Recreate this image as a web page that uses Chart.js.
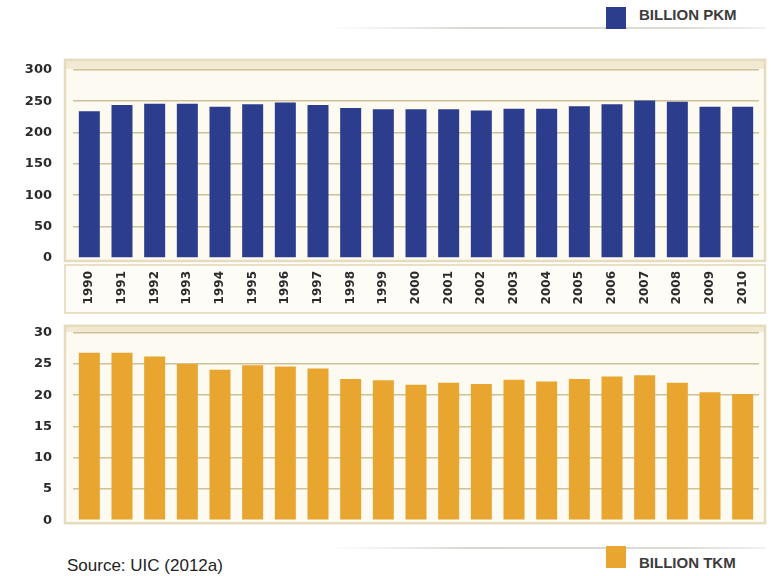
<!DOCTYPE html>
<html>
<head>
<meta charset="utf-8">
<script src="https://cdn.jsdelivr.net/npm/chart.js@4.4.1/dist/chart.umd.min.js"></script>
<style>
  body { margin: 0; background: #fff; }
  #page { position: relative; width: 771px; height: 576px; overflow: hidden; background: #fff; }
  #page canvas { position: absolute; left: 0; }
  .rule { position: absolute; left: 330px; width: 435px; height: 2px;
          background: linear-gradient(to right, rgba(210,210,204,0), #d6d6d0 35%, #dcdcd6 80%, rgba(220,220,214,0.4)); }
  .swatch { position: absolute; left: 606px; width: 20px; height: 22px; }
  .legtext { position: absolute; left: 639px; font: bold 15px "Liberation Sans Narrow", "Liberation Sans", Arial, sans-serif;
             color: #3c3c3c; white-space: nowrap; line-height: 15px; }
  #source { position: absolute; left: 67px; top: 557px; font: 17px "Liberation Sans Narrow", "Liberation Sans", Arial, sans-serif;
            color: #222; line-height: 18px; }
</style>
</head>
<body>
<div id="page">
  <div class="rule" style="top:27px"></div>
  <div class="swatch" style="top:7px;background:#2d3d8e"></div>
  <div class="legtext" style="top:7px">BILLION PKM</div>

  <div class="rule" style="top:547px"></div>
  <div class="swatch" style="top:546px;background:#e8a630"></div>
  <div class="legtext" style="top:555px">BILLION TKM</div>
  <div id="source">Source: UIC (2012a)</div>

  <canvas id="pkm" style="top:41px" width="771" height="277"></canvas>
  <canvas id="tkm" style="top:304px" width="771" height="245"></canvas>
</div>
<script>
const years = ['1990','1991','1992','1993','1994','1995','1996','1997','1998','1999','2000',
               '2001','2002','2003','2004','2005','2006','2007','2008','2009','2010'];
const billionPkm = [234, 244, 246, 246, 241, 245, 248, 244, 239, 237, 237,
                    237, 235, 238, 238, 242, 245, 251, 249, 241, 241];
const billionTkm = [26.8, 26.8, 26.2, 25.0, 24.1, 24.8, 24.6, 24.3, 22.6, 22.4, 21.7,
                    22.0, 21.8, 22.5, 22.2, 22.6, 23.0, 23.2, 22.0, 20.5, 20.2];
const pkmTicks = [0, 50, 100, 150, 200, 250, 300];
const tkmTicks = [0, 5, 10, 15, 20, 25, 30];

const tickFont = { family: 'DejaVu Sans', weight: 'bold', size: 13 };

// beige frame behind the plot, plus the box round the year labels
const framePlugin = {
  id: 'frame',
  beforeDraw(chart, args, opts) {
    const { ctx, chartArea: a } = chart;
    const l = a.left - 8, r = a.right + 6, t = a.top - opts.topGap, b = a.bottom + 3;
    ctx.save();
    ctx.fillStyle = '#fcfaf1';
    ctx.fillRect(l, t, r - l, b - t);
    ctx.fillStyle = '#f1e9d1';
    ctx.fillRect(l, t, r - l, opts.topGap - 1);
    ctx.strokeStyle = '#e6dcbd';
    ctx.lineWidth = 2.5;
    ctx.strokeRect(l, t, r - l, b - t);
    if (opts.labelBox) {
      ctx.fillStyle = '#fdfcf7';
      ctx.fillRect(l, a.bottom + 7, r - l, 48);
      ctx.strokeStyle = '#e8dfc4';
      ctx.lineWidth = 2;
      ctx.strokeRect(l, a.bottom + 7, r - l, 48);
    }
    ctx.restore();
  }
};

function makeChart(id, values, color, ticks, showYears, pad) {
  return new Chart(document.getElementById(id), {
    type: 'bar',
    data: {
      labels: years,
      datasets: [{ label: id, data: values, backgroundColor: color,
                   categoryPercentage: 1, barPercentage: 0.643 }]
    },
    plugins: [framePlugin],
    options: {
      responsive: false,
      animation: false,
      layout: { padding: pad },
      plugins: {
        legend: { display: false },
        tooltip: { enabled: false },
        frame: { topGap: showYears ? 10 : 7, labelBox: showYears }
      },
      scales: {
        x: {
          display: showYears,
          offset: true,
          grid: { display: false, drawTicks: false, tickLength: 0 },
          border: { display: false },
          ticks: { minRotation: 90, maxRotation: 90, padding: 13, color: '#2b2b2b',
                   font: { family: 'DejaVu Sans', weight: 'bold', size: 12 } },
          afterFit(scale) { scale.height = showYears ? 58 : 0; }
        },
        y: {
          min: ticks[0],
          max: ticks[ticks.length - 1],
          afterBuildTicks(scale) { scale.ticks = ticks.map(v => ({ value: v })); },
          grid: {
            drawTicks: false, tickLength: 0, lineWidth: 1.6,
            color: c => c.tick && c.tick.value === 0 ? 'rgba(0,0,0,0)' : 'rgba(190,174,120,0.75)'
          },
          border: { display: false },
          ticks: { padding: 21, color: '#2b2b2b', font: tickFont },
          afterFit(scale) { scale.width = 73; }
        }
      }
    }
  });
}

makeChart('pkm', billionPkm, '#2d3d8e', pkmTicks, true, { left: 0, right: 12, top: 20, bottom: 2 });
makeChart('tkm', billionTkm, '#e8a630', tkmTicks, false, { left: 0, right: 12, top: 22, bottom: 16 });
</script>
</body>
</html>
